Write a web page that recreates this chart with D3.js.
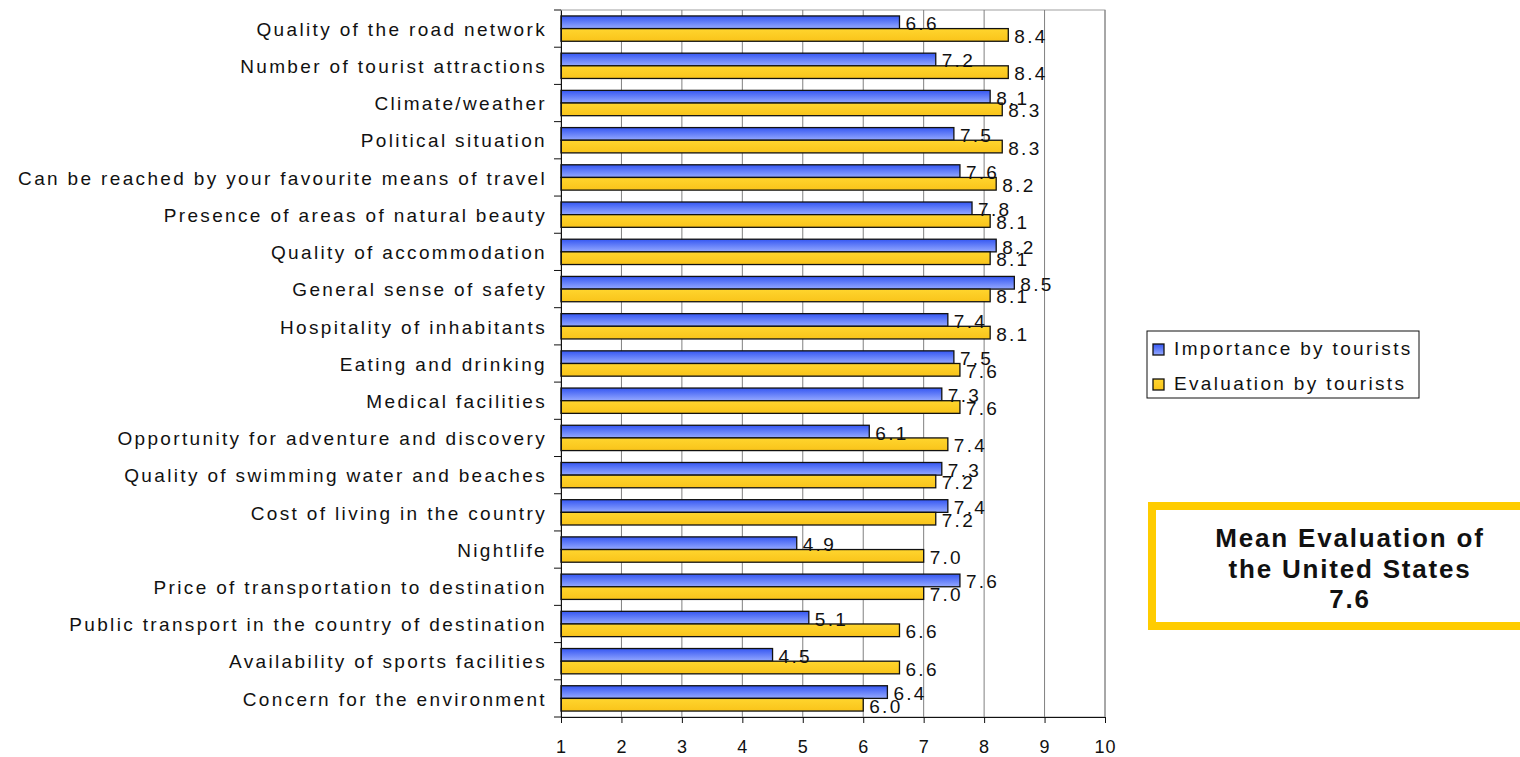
<!DOCTYPE html>
<html>
<head>
<meta charset="utf-8">
<script src="https://cdn.jsdelivr.net/npm/d3@7"></script>
<style>
  body { margin: 0; background: #fff; }
  svg { display: block; }
  text { font-family: 'Liberation Sans', Arial, sans-serif; }
  .cat text { font-size: 19px; letter-spacing: 2.35px; fill: #111; }
  .xax text { font-size: 18px; letter-spacing: 1px; fill: #111; }
  .val { font-size: 19px; letter-spacing: 2.3px; fill: #111; }
</style>
</head>
<body>
<div class="visualization"></div>
<script>
const categories = [
  'Quality of the road network',
  'Number of tourist attractions',
  'Climate/weather',
  'Political situation',
  'Can be reached by your favourite means of travel',
  'Presence of areas of natural beauty',
  'Quality of accommodation',
  'General sense of safety',
  'Hospitality of inhabitants',
  'Eating and drinking',
  'Medical facilities',
  'Opportunity for adventure and discovery',
  'Quality of swimming water and beaches',
  'Cost of living in the country',
  'Nightlife',
  'Price of transportation to destination',
  'Public transport in the country of destination',
  'Availability of sports facilities',
  'Concern for the environment'
]
const importance = [6.6, 7.2, 8.1, 7.5, 7.6, 7.8, 8.2, 8.5, 7.4, 7.5, 7.3, 6.1, 7.3, 7.4, 4.9, 7.6, 5.1, 4.5, 6.4]
const evaluation = [8.4, 8.4, 8.3, 8.3, 8.2, 8.1, 8.1, 8.1, 8.1, 7.6, 7.6, 7.4, 7.2, 7.2, 7.0, 7.0, 6.6, 6.6, 6.0]
const seriesNames = ['Importance by tourists', 'Evaluation by tourists']
const xTicks = [1, 2, 3, 4, 5, 6, 7, 8, 9, 10]
const meanLines = ['Mean Evaluation of', 'the United States', '7.6']

const WIDTH = 1520
const HEIGHT = 757
const margin = {top: 10, right: 415, bottom: 40, left: 561}

const svg = d3.select('.visualization').append('svg')
  .attr('width', WIDTH)
  .attr('height', HEIGHT)

const defs = svg.append('defs')
const blueGrad = defs.append('linearGradient')
  .attr('id', 'blueGrad').attr('x1', 0).attr('y1', 0).attr('x2', 0).attr('y2', 1)
blueGrad.append('stop').attr('offset', '0%').attr('stop-color', '#3557f2')
blueGrad.append('stop').attr('offset', '100%').attr('stop-color', '#95a9ff')
const yellowGrad = defs.append('linearGradient')
  .attr('id', 'yellowGrad').attr('x1', 0).attr('y1', 0).attr('x2', 0).attr('y2', 1)
yellowGrad.append('stop').attr('offset', '0%').attr('stop-color', '#ffd52e')
yellowGrad.append('stop').attr('offset', '100%').attr('stop-color', '#f9c41a')

const fills = ['url(#blueGrad)', 'url(#yellowGrad)']

const x = d3.scaleLinear().domain([1, 10]).range([margin.left, WIDTH - margin.right])
const y = d3.scaleBand().domain(categories).range([margin.top, HEIGHT - margin.bottom])
const inner = d3.scaleBand().domain([0, 1]).range([0, y.bandwidth()]).paddingOuter(0.47)

// plot frame + vertical gridlines
svg.append('rect')
  .attr('x', x(1)).attr('y', margin.top)
  .attr('width', x(10) - x(1)).attr('height', y.range()[1] - margin.top)
  .attr('fill', 'none').attr('stroke', '#a0a0a0').attr('stroke-width', 1)

svg.append('g')
  .selectAll('line')
  .data(xTicks.slice(1))
  .enter().append('line')
  .attr('x1', d => x(d)).attr('x2', d => x(d))
  .attr('y1', margin.top).attr('y2', y.range()[1])
  .attr('stroke', '#808080').attr('stroke-width', 1)

// bars
const rows = categories.map((c, i) => ({cat: c, vals: [importance[i], evaluation[i]]}))
const group = svg.append('g')
  .selectAll('g')
  .data(rows)
  .enter().append('g')
  .attr('transform', d => 'translate(0,' + y(d.cat) + ')')

group.selectAll('rect')
  .data(d => d.vals.map((v, k) => ({v: v, k: k})))
  .enter().append('rect')
  .attr('x', x(1))
  .attr('y', d => inner(d.k))
  .attr('width', d => x(d.v) - x(1))
  .attr('height', inner.bandwidth())
  .attr('fill', d => fills[d.k])
  .attr('stroke', '#111')
  .attr('stroke-width', 1.3)

group.selectAll('text')
  .data(d => d.vals.map((v, k) => ({v: v, k: k})))
  .enter().append('text')
  .attr('class', 'val')
  .attr('x', d => x(d.v) + 6)
  .attr('y', d => inner(d.k) + inner.bandwidth() / 2 + 8)
  .text(d => d.v.toFixed(1))

// left axis
svg.append('g')
  .attr('class', 'cat')
  .attr('transform', 'translate(' + x(1) + ',0)')
  .call(d3.axisLeft(y).tickSize(0).tickPadding(14))
  .call(g => g.select('.domain').attr('stroke', '#111'))
  .call(g => g.selectAll('text').attr('dy', '0.38em'))

svg.append('g')
  .selectAll('line')
  .data(categories.concat(['end']))
  .enter().append('line')
  .attr('x1', x(1) - 7).attr('x2', x(1))
  .attr('y1', (d, i) => margin.top + i * y.step())
  .attr('y2', (d, i) => margin.top + i * y.step())
  .attr('stroke', '#111')

// bottom axis
svg.append('g')
  .attr('class', 'xax')
  .attr('transform', 'translate(0,' + y.range()[1] + ')')
  .call(d3.axisBottom(x).tickValues(xTicks).tickSize(6).tickPadding(17).tickFormat(d3.format('d')))
  .call(g => g.select('.domain').attr('stroke', '#111'))
  .call(g => g.selectAll('.tick line').attr('stroke', '#111'))

// legend
const legend = svg.append('g').attr('transform', 'translate(1147,331)')
legend.append('rect')
  .attr('width', 272).attr('height', 67)
  .attr('fill', '#fff').attr('stroke', '#111').attr('stroke-width', 1)
const li = legend.selectAll('g.item')
  .data(seriesNames)
  .enter().append('g')
  .attr('class', 'item')
  .attr('transform', (d, i) => 'translate(6,' + (13 + i * 35) + ')')
li.append('rect')
  .attr('width', 11).attr('height', 11)
  .attr('fill', (d, i) => fills[i])
  .attr('stroke', '#111').attr('stroke-width', 1.3)
li.append('text')
  .attr('x', 21).attr('y', 11)
  .style('font-size', '19px').style('letter-spacing', '2.35px').style('fill', '#111')
  .text(d => d)

// mean evaluation box
const mean = svg.append('g')
mean.append('rect')
  .attr('x', 1152).attr('y', 506)
  .attr('width', 400).attr('height', 120)
  .attr('fill', '#fff').attr('stroke', '#ffcc00').attr('stroke-width', 8)
mean.selectAll('text')
  .data(meanLines)
  .enter().append('text')
  .attr('x', 1350)
  .attr('y', (d, i) => 547 + i * 30.5)
  .attr('text-anchor', 'middle')
  .style('font-size', '26px').style('font-weight', 'bold')
  .style('letter-spacing', '1.8px').style('fill', '#111')
  .text(d => d)
</script>
</body>
</html>
